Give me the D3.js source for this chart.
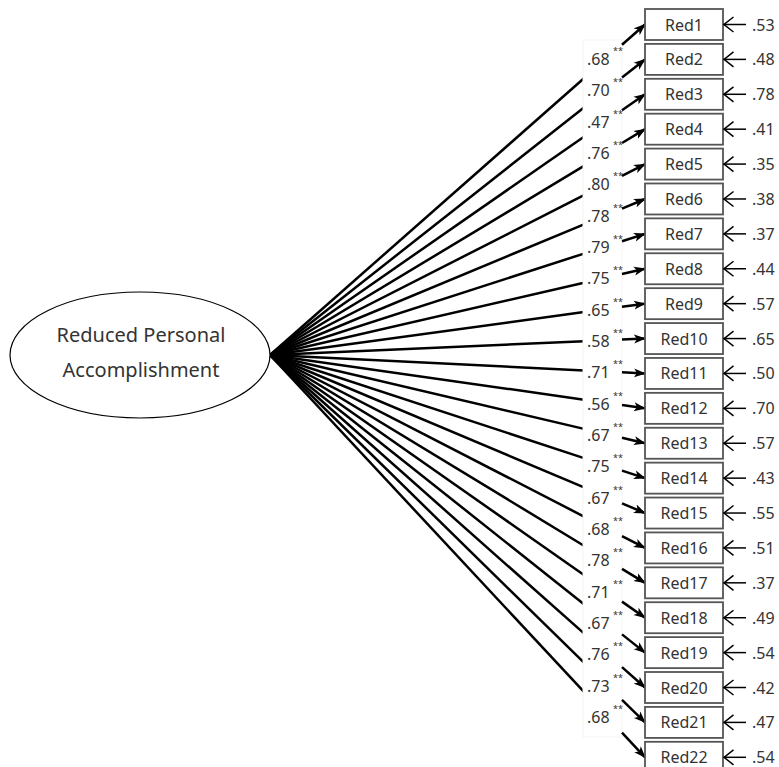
<!DOCTYPE html>
<html>
<head>
<meta charset="utf-8">
<script src="https://cdn.jsdelivr.net/npm/d3@7"></script>
<style>
  html, body { margin: 0; padding: 0; background: #fff; }
  svg { display: block; }
  text { font-family: "Noto Sans", "Open Sans", sans-serif; fill: #333; }
</style>
</head>
<body>
<svg id="chart" width="779" height="767"></svg>
<script>
// ---- data ----
const latentLabel = ["Reduced Personal", "Accomplishment"];
const indicators = ["Red1","Red2","Red3","Red4","Red5","Red6","Red7","Red8","Red9","Red10","Red11",
                    "Red12","Red13","Red14","Red15","Red16","Red17","Red18","Red19","Red20","Red21","Red22"];
const loadings = [0.68,0.70,0.47,0.76,0.80,0.78,0.79,0.75,0.65,0.58,0.71,
                  0.56,0.67,0.75,0.67,0.68,0.78,0.71,0.67,0.76,0.73,0.68];
const errors = [0.53,0.48,0.78,0.41,0.35,0.38,0.37,0.44,0.57,0.65,0.50,
                0.70,0.57,0.43,0.55,0.51,0.37,0.49,0.54,0.42,0.47,0.54];
const sigMark = "**";

// ---- layout ----
const svg = d3.select("#chart");
const fmt = v => d3.format(".2f")(v).replace(/^0/, "");

const ell = { cx: 140, cy: 355, rx: 130, ry: 63 };
const boxX = 645, boxW = 78, boxH = 31;
const yCenter = d3.scalePoint().domain(indicators).range([24.5, 757.3]);
const labelY = d3.scaleLinear().domain([0, indicators.length - 1]).range([65, 723]);
const gapX0 = 583, gapX1 = 622;

const defs = svg.append("defs");
defs.append("marker")
  .attr("id", "head").attr("markerUnits", "userSpaceOnUse")
  .attr("viewBox", "0 -5 12 10").attr("refX", 11).attr("refY", 0)
  .attr("markerWidth", 12).attr("markerHeight", 10).attr("orient", "auto")
  .append("path").attr("d", "M0,-4.5 L12,0 L0,4.5 L3,0 Z").attr("fill", "#000");
defs.append("marker")
  .attr("id", "open").attr("markerUnits", "userSpaceOnUse")
  .attr("viewBox", "-12 -9 13 18").attr("refX", 0).attr("refY", 0)
  .attr("markerWidth", 13).attr("markerHeight", 18).attr("orient", "auto")
  .append("path").attr("d", "M-10,-7.5 L-0.5,0 L-10,7.5").attr("fill", "none")
  .attr("stroke", "#000").attr("stroke-width", 1.5);

const px = ell.cx + ell.rx, py = ell.cy;
const lineY = (d, x) => py + (yCenter(d) - py) * (x - px) / (boxX - px);

// main path lines
svg.append("g").selectAll("line").data(indicators).join("line")
  .attr("x1", px).attr("y1", py)
  .attr("x2", gapX0 + 1).attr("y2", d => lineY(d, gapX0 + 1))
  .attr("stroke", "#000").attr("stroke-width", 2.5);

// label background
svg.append("rect").attr("x", gapX0).attr("y", 40).attr("width", gapX1 - gapX0).attr("height", 697)
  .attr("fill", "#fff").attr("stroke", "#f4f4f4").attr("stroke-width", 1);

// arrow segments into boxes
svg.append("g").selectAll("line").data(indicators).join("line")
  .attr("x1", gapX1).attr("y1", d => lineY(d, gapX1))
  .attr("x2", boxX).attr("y2", d => yCenter(d))
  .attr("stroke", "#000").attr("stroke-width", 2.5)
  .attr("marker-end", "url(#head)");

// loading labels
const lab = svg.append("g").selectAll("g").data(loadings).join("g");
lab.append("text").attr("x", 587).attr("y", (d, i) => labelY(i))
  .attr("font-size", 16).text(d => fmt(d));
lab.append("text").attr("x", 613).attr("y", (d, i) => labelY(i) - 11)
  .attr("font-size", 9).text(sigMark);

// ellipse
svg.append("ellipse").attr("cx", ell.cx).attr("cy", ell.cy).attr("rx", ell.rx).attr("ry", ell.ry)
  .attr("fill", "#fff").attr("stroke", "#000").attr("stroke-width", 1.2);
svg.append("g").selectAll("text").data(latentLabel).join("text")
  .attr("x", ell.cx + 1).attr("y", (d, i) => 342 + i * 35)
  .attr("text-anchor", "middle").attr("font-size", 20).text(d => d);

// indicator boxes
const bx = svg.append("g").selectAll("g").data(indicators).join("g");
bx.append("rect").attr("x", boxX).attr("y", d => yCenter(d) - boxH / 2)
  .attr("width", boxW).attr("height", boxH)
  .attr("fill", "#fff").attr("stroke", "#555").attr("stroke-width", 1.8);
bx.append("text").attr("x", boxX + boxW / 2).attr("y", d => yCenter(d) + 6)
  .attr("text-anchor", "middle").attr("font-size", 16).text(d => d);

// error arrows
const er = svg.append("g").selectAll("g").data(errors).join("g");
er.append("line").attr("x1", 746).attr("x2", boxX + boxW + 0.5)
  .attr("y1", (d, i) => yCenter(indicators[i])).attr("y2", (d, i) => yCenter(indicators[i]))
  .attr("stroke", "#000").attr("stroke-width", 1.5).attr("marker-end", "url(#open)");
er.append("text").attr("x", 752).attr("y", (d, i) => yCenter(indicators[i]) + 6)
  .attr("font-size", 16).text(d => fmt(d));
</script>
</body>
</html>
